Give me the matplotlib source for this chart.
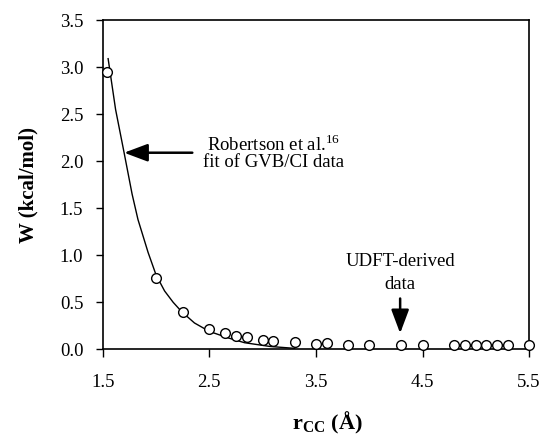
import matplotlib
matplotlib.use("Agg")
import matplotlib.pyplot as plt

plt.rcParams['font.family'] = ['Liberation Serif', 'DejaVu Serif']
plt.rcParams['mathtext.fontset'] = 'custom'
plt.rcParams['mathtext.rm'] = 'Liberation Serif'
plt.rcParams['mathtext.bf'] = 'Liberation Serif:bold'

# UDFT-derived data points
r_udft = [1.54, 2.0, 2.25, 2.5, 2.65, 2.75, 2.85, 3.0, 3.1, 3.3, 3.5, 3.6,
          3.8, 4.0, 4.3, 4.5, 4.8, 4.9, 5.0, 5.1, 5.2, 5.3, 5.5]
w_udft = [2.95, 0.76, 0.40, 0.22, 0.17, 0.14, 0.13, 0.10, 0.09, 0.075, 0.06, 0.065,
          0.05, 0.05, 0.05, 0.05, 0.05, 0.05, 0.05, 0.05, 0.05, 0.05, 0.05]

# Robertson et al. fit curve
r_fit = [1.55, 1.62, 1.70, 1.775, 1.83, 1.925, 2.0, 2.08, 2.16, 2.24, 2.36, 2.50,
         2.68, 2.83, 3.07, 3.3]
w_fit = [3.09, 2.55, 2.09, 1.65, 1.38, 1.03, 0.79, 0.62, 0.50, 0.40, 0.28, 0.19,
         0.12, 0.07, 0.03, 0.01]

fig = plt.figure(figsize=(5.41, 4.37), dpi=100)
ax = fig.add_axes([0.190, 0.2007, 0.788, 0.7533])

ax.plot(r_fit, w_fit, color='black', lw=1.0)
ax.plot(r_udft, w_udft, linestyle='none', marker='o', markersize=7,
        markerfacecolor='white', markeredgecolor='black', markeredgewidth=1.0,
        clip_on=False, zorder=3)

ax.set_xlim(1.5, 5.5)
ax.set_ylim(0.0, 3.5)
ax.set_xticks([1.5, 2.5, 3.5, 4.5, 5.5])
ax.set_yticks([0.0, 0.5, 1.0, 1.5, 2.0, 2.5, 3.0, 3.5])
ax.set_yticklabels([f"{v:.1f}" for v in ax.get_yticks()])
ax.tick_params(axis='x', direction='out', length=6, width=1.0, pad=12, labelsize=13.5)
ax.tick_params(axis='y', direction='out', length=5, width=1.0, pad=9, labelsize=13.5)
for s in ax.spines.values():
    s.set_linewidth(1.2)

ax.set_ylabel("W (kcal/mol)", fontsize=15, fontweight='bold')
ax.yaxis.set_label_coords(-0.150, 0.5)
ax.set_xlabel(r"$\mathbf{r}_{\mathbf{CC}}$ (Å)", fontsize=16, fontweight='bold')
ax.xaxis.set_label_coords(0.526, -0.185)

arrow = dict(arrowstyle='-|>,head_length=1.2,head_width=0.45', color='black',
             lw=1.8, mutation_scale=12, shrinkA=0, shrinkB=0)
ax.annotate("", xy=(1.70, 2.09), xytext=(2.34, 2.09), arrowprops=arrow)
ax.text(3.10, 2.18, "Robertson et al.$^{16}$", ha='center', va='center', fontsize=13.5)
ax.text(3.10, 1.99, "fit of GVB/CI data", ha='center', va='center', fontsize=13.5)

ax.annotate("", xy=(4.29, 0.17), xytext=(4.29, 0.54), arrowprops=arrow)
ax.text(4.29, 0.93, "UDFT-derived", ha='center', va='center', fontsize=13.5)
ax.text(4.29, 0.69, "data", ha='center', va='center', fontsize=13.5)

fig.savefig("out.png", dpi=100)
